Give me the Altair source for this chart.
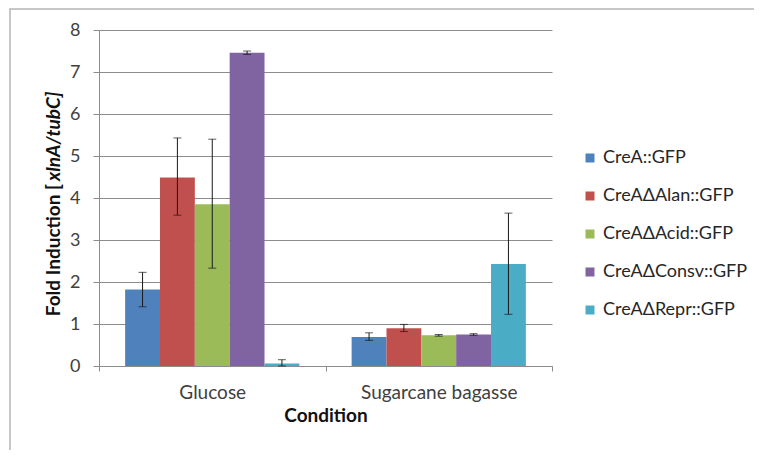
import altair as alt
import pandas as pd

conditions = ["Glucose", "Sugarcane bagasse"]
strains = ["CreA::GFP", "CreAΔAlan::GFP", "CreAΔAcid::GFP", "CreAΔConsv::GFP", "CreAΔRepr::GFP"]
colors = ["#4F81BD", "#C0504D", "#9BBB59", "#8064A2", "#4BACC6"]

glucose_mean = [1.82, 4.49, 3.85, 7.46, 0.06]
glucose_lo = [1.41, 3.59, 2.33, 7.42, 0.00]
glucose_hi = [2.23, 5.43, 5.40, 7.50, 0.15]

bagasse_mean = [0.69, 0.90, 0.73, 0.75, 2.43]
bagasse_lo = [0.61, 0.82, 0.71, 0.73, 1.23]
bagasse_hi = [0.79, 0.99, 0.75, 0.77, 3.64]

y_ticks = [0, 1, 2, 3, 4, 5, 6, 7, 8]

rows = []
for cond, m, lo, hi in [
    (conditions[0], glucose_mean, glucose_lo, glucose_hi),
    (conditions[1], bagasse_mean, bagasse_lo, bagasse_hi),
]:
    for s, mv, lv, hv in zip(strains, m, lo, hi):
        rows.append({"condition": cond, "strain": s, "mean": mv, "lo": lv, "hi": hv})
df = pd.DataFrame(rows)

FONT = "Lato"

x_enc = alt.X(
    "condition:N",
    sort=conditions,
    scale=alt.Scale(paddingInner=0, paddingOuter=0),
    axis=alt.Axis(
        title="Condition",
        labelAngle=0,
        labelFont=FONT,
        labelFontSize=19,
        labelColor="#404040",
        labelPadding=12,
        titleFont=FONT,
        titleFontSize=19,
        titleFontWeight="bold",
        titleColor="#111111",
        titlePadding=4,
        tickBand="extent",
        tickSize=5,
        tickColor="#8c8c8c",
        domainColor="#8c8c8c",
        grid=False,
    ),
)
xoff_enc = alt.XOffset(
    "strain:N", sort=strains, scale=alt.Scale(paddingInner=0, paddingOuter=0.75)
)
y_scale = alt.Scale(domain=[0, 8], nice=False)

bars = (
    alt.Chart(df)
    .mark_bar()
    .encode(
        x=x_enc,
        xOffset=xoff_enc,
        y=alt.Y(
            "mean:Q",
            scale=y_scale,
            axis=alt.Axis(
                title=None,
                values=y_ticks,
                labelFont=FONT,
                labelFontSize=18,
                labelColor="#404040",
                labelPadding=13,
                tickSize=6,
                tickColor="#8c8c8c",
                domainColor="#8c8c8c",
                gridColor="#8c8c8c",
                gridWidth=1,
            ),
        ),
        color=alt.Color(
            "strain:N",
            sort=strains,
            scale=alt.Scale(domain=strains, range=colors),
            legend=alt.Legend(
                title=None,
                orient="none",
                legendX=482,
                legendY=119,
                symbolType="square",
                symbolSize=81,
                symbolStrokeWidth=0,
                labelFont=FONT,
                labelFontSize=18,
                labelColor="#262626",
                labelOffset=4,
                labelLimit=400,
                rowPadding=20,
                padding=0,
            ),
        ),
    )
)

err = (
    alt.Chart(df)
    .mark_rule(color="#1a1a1a", strokeWidth=1)
    .encode(x=alt.X("condition:N", sort=conditions), xOffset=xoff_enc,
            y=alt.Y("lo:Q", scale=y_scale), y2="hi:Q")
)
cap_hi = (
    alt.Chart(df)
    .mark_tick(color="#1a1a1a", size=8, thickness=1, orient="horizontal")
    .encode(x=alt.X("condition:N", sort=conditions), xOffset=xoff_enc,
            y=alt.Y("hi:Q", scale=y_scale))
)
cap_lo = (
    alt.Chart(df)
    .mark_tick(color="#1a1a1a", size=8, thickness=1, orient="horizontal")
    .encode(x=alt.X("condition:N", sort=conditions), xOffset=xoff_enc,
            y=alt.Y("lo:Q", scale=y_scale))
)

# y-axis title with an italic part: both pieces meet at one junction point
title_parts = [
    ("Fold Induction [", "normal", "right", 154),
    ("xlnA/tubC]", "italic", "left", 151),
]
title_layers = []
for txt, style, al, ypos in title_parts:
    title_layers.append(
        alt.Chart(pd.DataFrame({"t": [txt]}))
        .mark_text(
            font=FONT,
            fontSize=19,
            fontWeight="bold",
            fontStyle=style,
            angle=270,
            align=al,
            baseline="middle",
            color="#111111",
        )
        .encode(x=alt.value(-45), y=alt.value(ypos), text="t:N")
    )

border = (
    alt.Chart(pd.DataFrame({"b": [1]}))
    .mark_rect(fill="transparent", stroke="#b5b5b5", strokeWidth=1.5)
    .encode(x=alt.value(-89), x2=alt.value(720), y=alt.value(-21), y2=alt.value(500))
)

chart = (
    alt.layer(border, bars, err, cap_hi, cap_lo, *title_layers)
    .properties(
        width=453,
        height=336,
        autosize=alt.AutoSizeParams(type="none"),
        padding={"left": 91, "top": 22, "right": 202, "bottom": 84},
        background="white",
    )
    .configure_view(stroke=None)
)

chart.save("out.html", embed_options={"renderer": "svg", "actions": False})
